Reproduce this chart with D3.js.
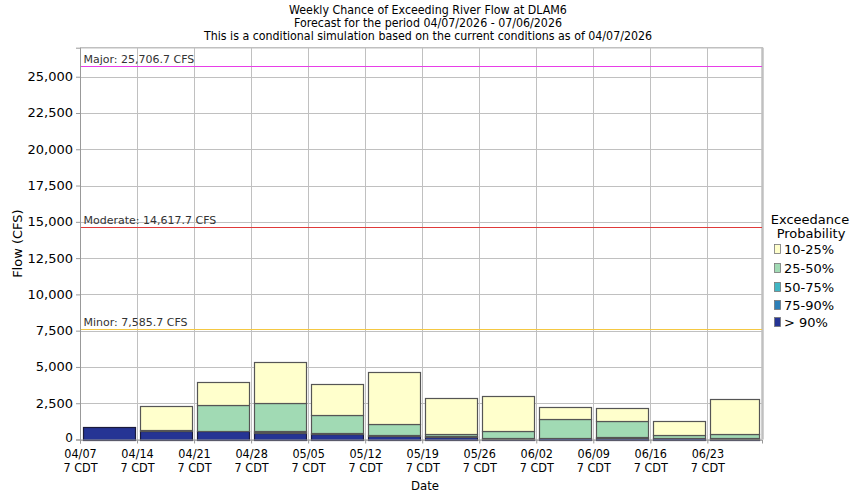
<!DOCTYPE html>
<html>
<head>
<meta charset="utf-8">
<script src="https://cdn.jsdelivr.net/npm/d3@7/dist/d3.min.js"></script>
<style>
  html, body { margin: 0; padding: 0; background: #fff; }
  svg { display: block; }
  text { font-family: "DejaVu Sans", sans-serif; fill: #000; }
  .title { font-family: "DejaVu Sans Condensed", "DejaVu Sans", sans-serif; font-stretch: condensed; font-size: 12.3px; }
</style>
</head>
<body>
<svg id="chart" width="850" height="500"></svg>
<script>
// ---- data ----
const titleLines = [
  "Weekly Chance of Exceeding River Flow at DLAM6",
  "Forecast for the period 04/07/2026 - 07/06/2026",
  "This is a conditional simulation based on the current conditions as of 04/07/2026"
];
const weekStarts = ["2026-04-07","2026-04-14","2026-04-21","2026-04-28","2026-05-05","2026-05-12",
                    "2026-05-19","2026-05-26","2026-06-02","2026-06-09","2026-06-16","2026-06-23"];
// exceedance flows (CFS) per week
const p90 = [830, 620, 570, 440, 360, 270, 150,  60,   70,  100,  90,  60];
const p75 = [830, 625, 580, 500, 390, 285, 180,  75,   80,  130, 110,  70];
const p50 = [830, 630, 590, 580, 420, 300, 220,  90,   90,  150, 130,  80];
const p25 = [830, 640, 2350, 2510, 1660, 1040, 350, 620, 1380, 1250, 280, 350];
const p10 = [830, 2280, 3940, 5320, 3800, 4630, 2830, 2970, 2210, 2150, 1250, 2770];
const yTicks = [0, 2500, 5000, 7500, 10000, 12500, 15000, 17500, 20000, 22500, 25000];
const thresholds = [
  {label: "Major", value: 25706.7, color: "#e83ee8"},
  {label: "Moderate", value: 14617.7, color: "#e03a3a"},
  {label: "Minor", value: 7585.7, color: "#f5c842"}
];
const legendLabels = ["10-25%", "25-50%", "50-75%", "75-90%", "> 90%"];
const legendColors = ["#ffffcc", "#a1dab4", "#41b6c4", "#2c7fb8", "#253494"];

// ---- layout ----
const svg = d3.select("#chart");
const L = 80, R = 762, T = 47.7, B = 439.5;

const parse = s => new Date(s + "T07:00:00Z");
const x = d3.scaleUtc()
  .domain([parse("2026-04-07"), new Date("2026-06-30T00:00:00Z")])
  .range([L, R]);
const y = d3.scaleLinear().domain([0, 27000]).range([B, T]);

// title
titleLines.forEach((t, i) => {
  svg.append("text").attr("class", "title")
    .attr("x", 428).attr("y", 13.5 + i * 13.2)
    .attr("text-anchor", "middle").text(t);
});

// grid
const grid = svg.append("g");
yTicks.forEach(v => {
  grid.append("line").attr("x1", L).attr("x2", R).attr("y1", Math.round(y(v)) + 0.5).attr("y2", Math.round(y(v)) + 0.5)
    .attr("stroke", "#c0c0c0").attr("stroke-width", 1);
});
weekStarts.forEach(s => {
  const xx = Math.round(x(parse(s))) + 0.5;
  grid.append("line").attr("x1", xx).attr("x2", xx).attr("y1", T).attr("y2", B)
    .attr("stroke", "#c0c0c0").attr("stroke-width", 1);
});

// frame
svg.append("line").attr("x1", L).attr("x2", R + 1).attr("y1", T).attr("y2", T).attr("stroke", "#c0c0c0").attr("stroke-width", 1.5);
svg.append("line").attr("x1", R + 0.5).attr("x2", R + 0.5).attr("y1", T).attr("y2", B).attr("stroke", "#c0c0c0").attr("stroke-width", 2.5);

// thresholds
thresholds.forEach(th => {
  const yy = Math.round(y(th.value)) + 0.5;
  svg.append("line").attr("x1", L).attr("x2", R).attr("y1", yy).attr("y2", yy)
    .attr("stroke", th.color).attr("stroke-width", 1.2);
  svg.append("text").attr("x", L + 3.5).attr("y", yy - 3.5)
    .style("font-size", "11px").style("fill", "#333")
    .text(th.label + ": " + d3.format(",.1f")(th.value) + " CFS");
});

// bars
const seg = weekStarts.map((s, i) => {
  const x0 = x(parse(s)) + 2.5;
  const endT = new Date(parse(s).getTime() + 7 * 864e5);
  const x1 = Math.min(x(endT), R) - 3;
  const levels = [0, p90[i], p75[i], p50[i], p25[i], p10[i]];
  const colsOrder = ["#253494", "#2c7fb8", "#41b6c4", "#a1dab4", "#ffffcc"];
  return d3.range(5).map(k => ({x0, x1, lo: levels[k], hi: levels[k + 1], color: colsOrder[k]}));
});
const barsG = svg.append("g");
seg.forEach(week => {
  week.forEach(d => {
    if (d.hi - d.lo <= 0) return;
    barsG.append("rect")
      .attr("x", Math.round(d.x0) + 0.5).attr("width", Math.round(d.x1 - d.x0))
      .attr("y", Math.round(y(d.hi)) + 0.5).attr("height", Math.max(0, Math.round(y(d.lo)) - Math.round(y(d.hi))))
      .attr("fill", d.color)
      .attr("stroke", d.color === "#253494" ? "#1a1a3a" : "#555")
      .attr("stroke-width", 1.2);
  });
});

// y axis
const yAxis = d3.axisLeft(y).tickValues(yTicks).tickFormat(d3.format(",")).tickSize(4).tickPadding(3);
const gy = svg.append("g").attr("transform", `translate(${L},0)`).call(yAxis);
gy.select(".domain").attr("stroke", "#999");
gy.selectAll(".tick line").attr("stroke", "#999");
gy.selectAll("text").style("font-size", "13px").style("font-family", "DejaVu Sans").attr("dy", "0.3em");
gy.selectAll(".tick").filter(d => d === 0).select("text").style("font-size", "12px").attr("dy", "0.2em");

// x axis
const xAxis = d3.axisBottom(x).tickValues(weekStarts.map(parse)).tickSize(4).tickFormat("");
const gx = svg.append("g").attr("transform", `translate(0,${B})`).call(xAxis);
gx.select(".domain").attr("stroke", "#999");
gx.selectAll(".tick line").attr("stroke", "#999");
const fmt = d3.utcFormat("%m/%d");
gx.selectAll(".tick").each(function(d) {
  const t = d3.select(this).append("text").attr("text-anchor", "middle")
    .style("font-size", "12.5px").style("font-family", "DejaVu Sans Condensed, DejaVu Sans").style("font-stretch", "condensed");
  t.append("tspan").attr("x", 0).attr("y", 18).text(fmt(d));
  t.append("tspan").attr("x", 0).attr("y", 32).text("7 CDT");
});

// axis titles
svg.append("text").attr("x", 425).attr("y", 490).attr("text-anchor", "middle")
  .style("font-size", "13px").style("font-family", "DejaVu Sans Condensed, DejaVu Sans").style("font-stretch", "condensed").text("Date");
svg.append("text").attr("transform", `translate(22,${(T + B) / 2}) rotate(-90)`).attr("text-anchor", "middle")
  .style("font-size", "13px").text("Flow (CFS)");

// legend
const lg = svg.append("g");
lg.append("text").attr("x", 810).attr("y", 224).attr("text-anchor", "middle").style("font-size", "13px").text("Exceedance");
lg.append("text").attr("x", 811).attr("y", 238).attr("text-anchor", "middle").style("font-size", "13px").text("Probability");
const ly = [249, 268, 287, 305, 322];
legendLabels.forEach((lab, i) => {
  lg.append("rect").attr("x", 774.5).attr("y", ly[i] - 4.5).attr("width", 6).attr("height", 9)
    .attr("fill", legendColors[i]).attr("stroke", "#777").attr("stroke-width", 0.8);
  lg.append("text").attr("x", 784).attr("y", ly[i] + 5).style("font-size", "13px").text(lab);
});
</script>
</body>
</html>
